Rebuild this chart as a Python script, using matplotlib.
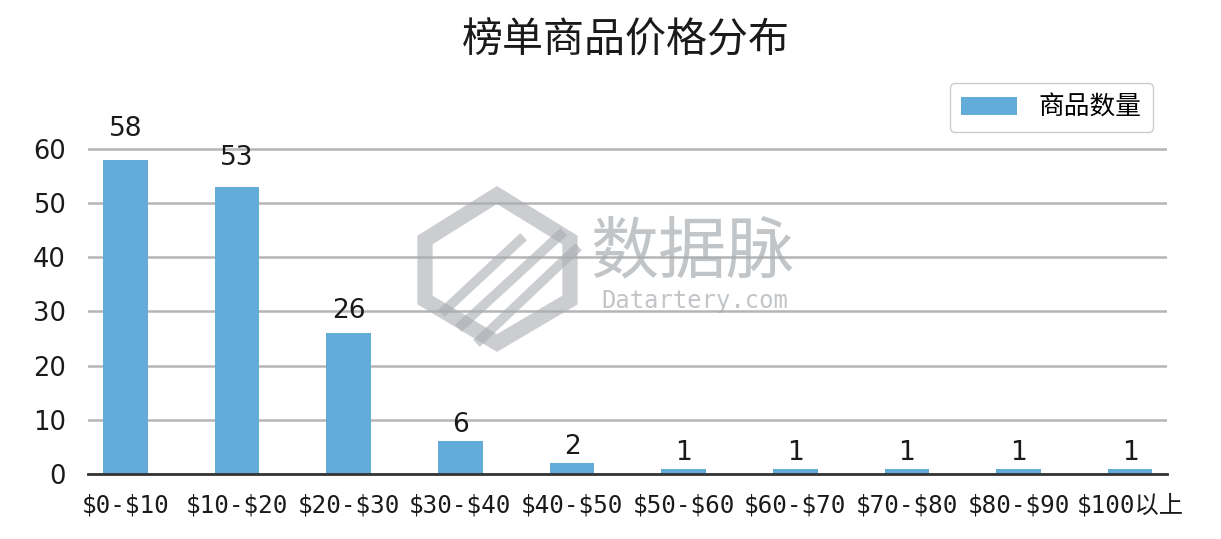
import matplotlib
matplotlib.use("Agg")
import matplotlib.pyplot as plt
from matplotlib.patches import Polygon

plt.rcParams['font.family'] = ['DejaVu Sans', 'Noto Sans CJK SC']
plt.rcParams['text.parse_math'] = False

categories = ["$0-$10", "$10-$20", "$20-$30", "$30-$40", "$40-$50",
              "$50-$60", "$60-$70", "$70-$80", "$80-$90", "$100以上"]
counts = [58, 53, 26, 6, 2, 1, 1, 1, 1, 1]
series_name = "商品数量"
title = "榜单商品价格分布"

fig = plt.figure(figsize=(12.21, 5.39), dpi=100)
ax = fig.add_axes([88/1221, 65/539, (1167-88)/1221, (474-118)/539])

x = list(range(len(categories)))
ax.bar(x, counts, width=0.4, color="#63acd9", label=series_name, zorder=3)
for xi, v in zip(x, counts):
    ax.text(xi, v * 1.048 + 2.8, str(v), ha="center", va="center", fontsize=19,
            color="#1a1a1a", zorder=4)

ax.set_xlim(-0.336, 9.33)
ax.set_ylim(0, 65.7)
ax.set_yticks([0, 10, 20, 30, 40, 50, 60])
ax.yaxis.grid(True, color="#b5b5b5", linewidth=1.8, zorder=0)
ax.set_axisbelow(True)
for s in ["top", "right", "left"]:
    ax.spines[s].set_visible(False)
ax.spines["bottom"].set_color("#333333")
ax.spines["bottom"].set_linewidth(2)
ax.spines["bottom"].set_zorder(5)
ax.tick_params(axis="both", length=0, colors="#1a1a1a")
ax.tick_params(axis="y", pad=16, labelsize=18.5)
ax.tick_params(axis="x", pad=14)
ax.set_xticks(x)
ax.set_xticklabels(categories, family=["DejaVu Sans Mono", "Noto Sans CJK SC"],
                   fontsize=17.5)

fig.text(626/1221, 1 - 41/539, title, ha="center", va="center", fontsize=29.5,
         family=["Noto Sans CJK SC", "DejaVu Sans"], color="#1a1a1a")

leg = ax.legend(loc="upper right", bbox_to_anchor=(0.9965, (474-73)/356),
                prop={"family": ["Noto Sans CJK SC", "DejaVu Sans"], "size": 18.5},
                handlelength=2.15, handleheight=0.7, handletextpad=0.85,
                borderpad=0.45, borderaxespad=0.4, frameon=True, fancybox=True,
                framealpha=1, edgecolor="#cccccc")

# watermark
wm = "#a9adb1"
hexpts = [(425, 240), (497, 195), (570, 240), (570, 300), (497, 343), (425, 300)]
def px(p):
    return (p[0]/1221, 1 - p[1]/539)
outer = Polygon([px(p) for p in hexpts], closed=True, transform=fig.transFigure,
                fill=False, edgecolor=wm, linewidth=11, alpha=0.6, zorder=10,
                joinstyle="miter")
fig.add_artist(outer)
for (x0, y0, x1, y1) in [(445, 310, 520, 240), (462, 325, 560, 235), (480, 340, 575, 250)]:
    fig.add_artist(plt.Line2D([x0/1221, x1/1221], [1 - y0/539, 1 - y1/539],
                              transform=fig.transFigure, color=wm, linewidth=7,
                              alpha=0.6, zorder=10))
fig.text(590/1221, 1 - 253/539, "数据脉", ha="left", va="center", fontsize=49,
         family=["Noto Sans CJK SC"], color=wm, alpha=0.7, zorder=10)
fig.text(601/1221, 1 - 301/539, "Datartery.com", ha="left", va="center", fontsize=17.2,
         family=["DejaVu Sans Mono"], color=wm, alpha=0.7, zorder=10)

fig.savefig("out.png", dpi=100)
